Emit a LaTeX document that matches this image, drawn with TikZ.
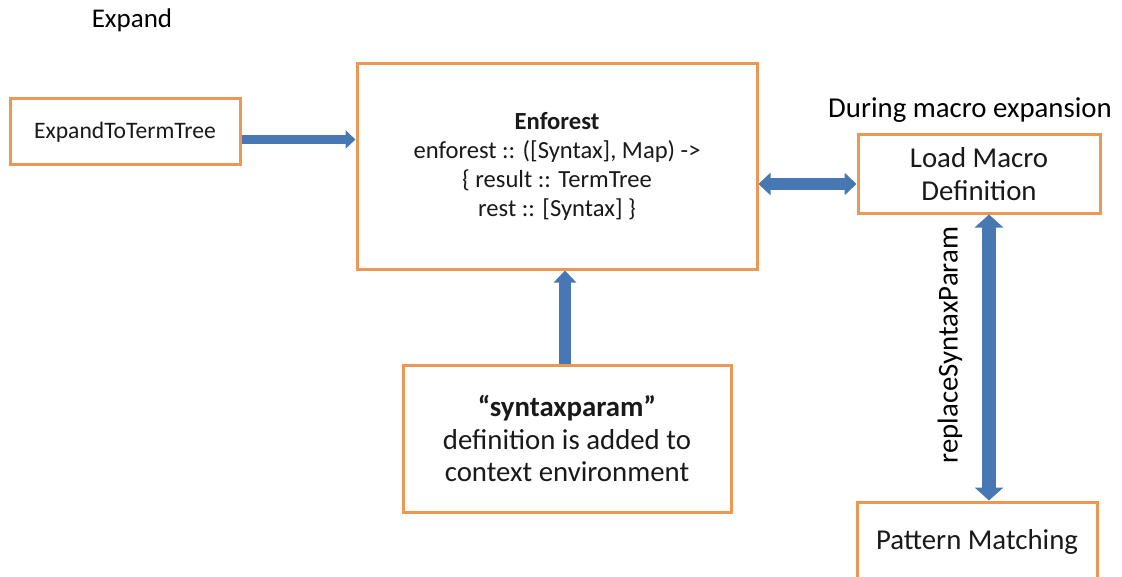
\documentclass[tikz,border=0pt]{standalone}
\usepackage{fontspec}
\setmainfont{Carlito}
\usetikzlibrary{arrows.meta,positioning}
\definecolor{boxorange}{RGB}{236,152,84}
\definecolor{arrowblue}{RGB}{72,120,180}

\begin{document}
\begin{tikzpicture}
[x=0.5pt,y=-0.5pt,
box/.style={draw=boxorange,line width=1.5pt,fill=white,align=center,inner sep=0pt,text=black!90},
bigtext/.style={font=\fontsize{14.4}{16.2}\selectfont},
blockarrow/.style={draw=arrowblue,line width=6pt,-{Triangle[width=11pt,length=6pt]}},
blockboth/.style={blockarrow,{Triangle[width=11pt,length=6pt]}-{Triangle[width=11pt,length=6pt]}}]
\useasboundingbox (0,0) rectangle (1122,577);

\node[font=\fontsize{13.5}{16}\selectfont] (title) at (132,20) {Expand};

\node[box,minimum width=115pt,minimum height=33pt,font=\fontsize{11.8}{14}\selectfont] (e2tt) at (125,132) {ExpandToTermTree};
\node[box,minimum width=200pt,minimum height=102.5pt,font=\fontsize{12.3}{14.6}\selectfont] (enforest) at (557,166.5)
  {\textbf{Enforest}\\ enforest :: ([Syntax], Map) ->\\ \{ result :: TermTree\\ rest :: [Syntax] \}};
\node[bigtext] (during) at (970,110) {During macro expansion};
\node[box,bigtext,minimum width=121pt,minimum height=39pt] (load) at (979,174) {Load Macro\\ Definition};
\node[box,bigtext,minimum width=164pt,minimum height=73.5pt] (synparam) at (567,438.5)
  {\textbf{``syntaxparam''}\\ definition is added to\\ context environment};
\node[box,bigtext,minimum width=120pt,minimum height=40pt] (pattern) at (977,542) {Pattern Matching};

\coordinate (a1) at (0,139.5);
\coordinate (a2) at (0,184);
\coordinate (a3) at (565,0);
\coordinate (a4) at (989,0);

\draw [blockarrow,line width=4.5pt,-{Triangle[width=9pt,length=5pt]}] (e2tt.east |- a1) -- (enforest.west |- a1);
\draw [blockboth] (enforest.east |- a2) -- (load.west |- a2);
\draw [blockarrow] (synparam.north -| a3) -- (enforest.south -| a3);
\draw [blockboth,{Triangle[width=14pt,length=6.5pt]}-{Triangle[width=14pt,length=6.5pt]},line width=7pt] (load.south -| a4) -- (pattern.north -| a4);

\node[rotate=90,bigtext] (repl) at (950,345) {replaceSyntaxParam};
\end{tikzpicture}
\end{document}
